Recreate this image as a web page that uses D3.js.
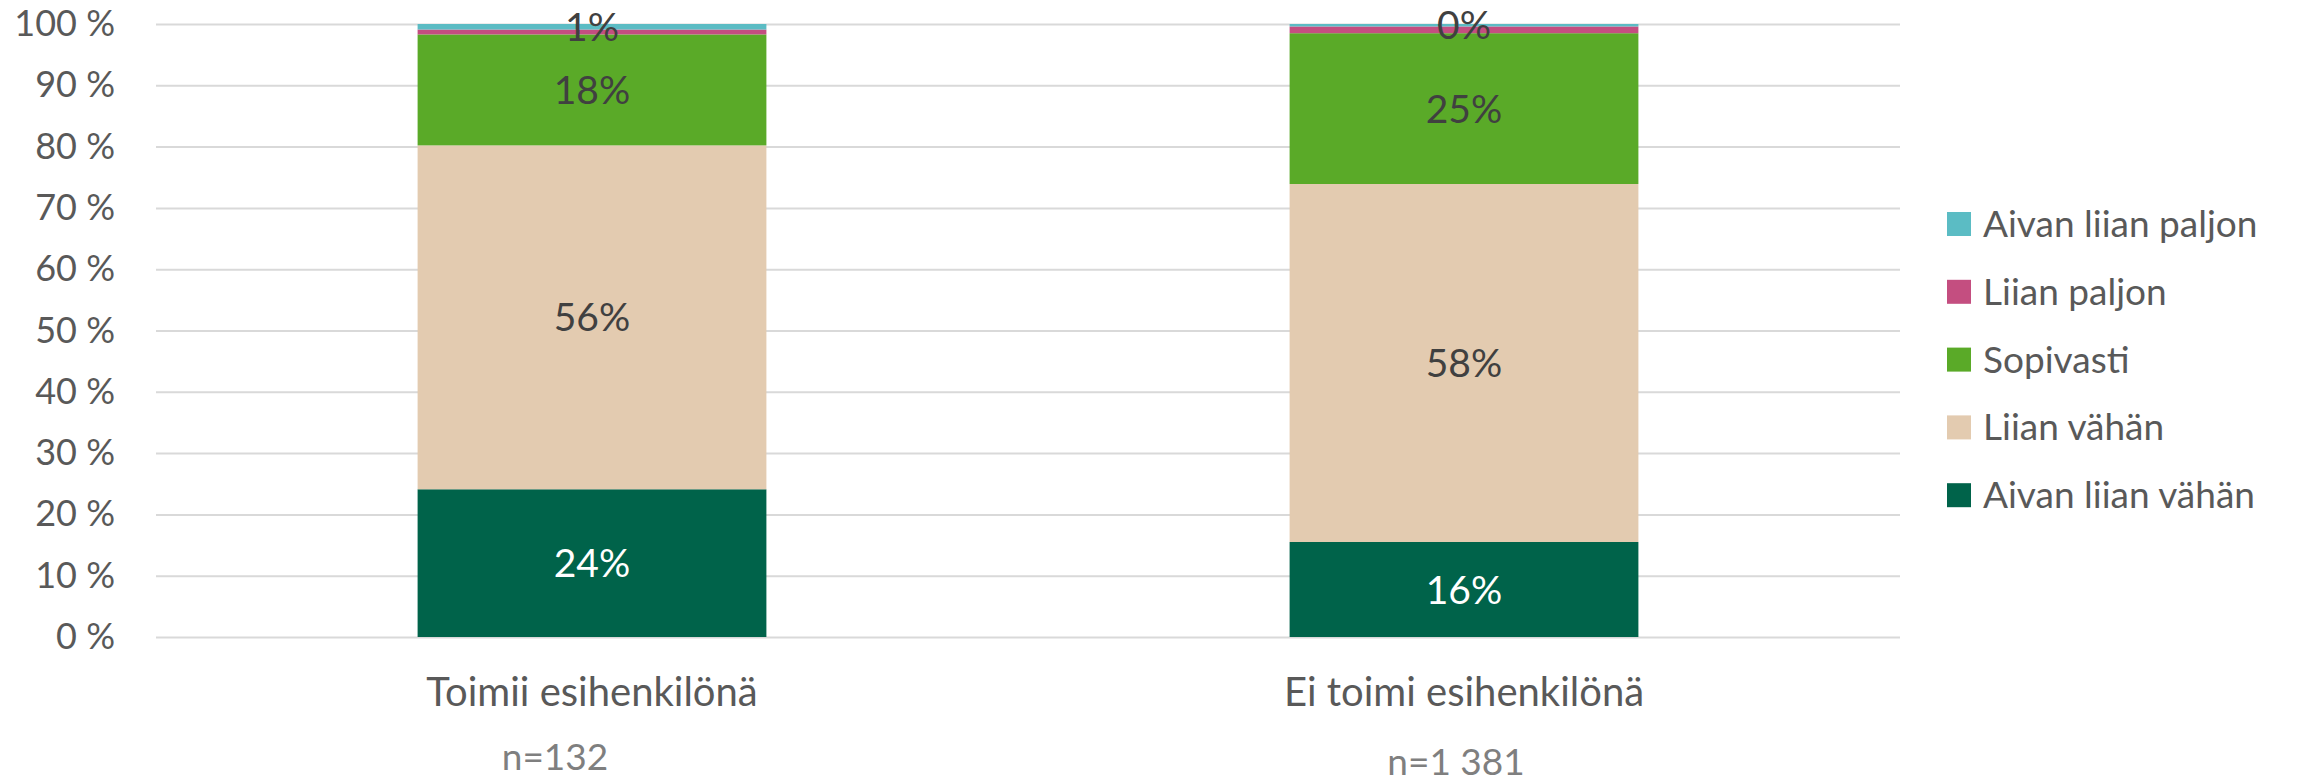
<!DOCTYPE html>
<html>
<head>
<meta charset="utf-8">
<script src="https://cdn.jsdelivr.net/npm/d3@7"></script>
<style>
  html, body { margin: 0; padding: 0; background: #fff; }
  svg text { font-family: Lato, "Open Sans", sans-serif; }
</style>
</head>
<body>
<div id="chart"></div>
<script>
// Categories and sample sizes
const categories = ["Toimii esihenkilönä", "Ei toimi esihenkilönä"];
const sampleSizes = ["n=132", "n=1 381"];

// Series, bottom to top of the stack
const seriesNames = ["Aivan liian vähän", "Liian vähän", "Sopivasti", "Liian paljon", "Aivan liian paljon"];
const aivanLiianVahan = [24.1, 15.5];
const liianVahan = [56.1, 58.4];
const sopivasti = [18.1, 24.6];
const liianPaljon = [0.8, 1.1];
const aivanLiianPaljon = [0.9, 0.4];

// Which series get a data label
const showLabel = [true, true, true, false, true];

const yTicks = [0, 10, 20, 30, 40, 50, 60, 70, 80, 90, 100];

const colors = ["#00634a", "#e3cbb0", "#5aaa28", "#c44e80", "#5bbcc4"];
const labelColors = ["#ffffff", "#404040", "#404040", "#404040", "#404040"];

// Build table for the stack layout
const seriesValues = [aivanLiianVahan, liianVahan, sopivasti, liianPaljon, aivanLiianPaljon];
const table = categories.map((c, i) => {
    const row = { category: c };
    seriesNames.forEach((s, j) => { row[s] = seriesValues[j][i]; });
    return row;
});

const width = 2305, height = 779;
const plot = { left: 156, right: 1900, top: 24, bottom: 637 };

const svg = d3.select("#chart")
    .append("svg")
    .attr("width", width)
    .attr("height", height);

const x = d3.scaleBand()
    .domain(categories)
    .range([plot.left, plot.right])
    .paddingInner(0.6)
    .paddingOuter(0.3);

const y = d3.scaleLinear()
    .domain([0, 100])
    .range([plot.bottom, plot.top]);

// Gridlines and y labels
const yAxis = svg.append("g")
    .attr("transform", `translate(${plot.left},0)`)
    .call(d3.axisLeft(y)
        .tickValues(yTicks)
        .tickSize(-(plot.right - plot.left))
        .tickPadding(41)
        .tickFormat(d => d + " %"));
yAxis.select(".domain").remove();
yAxis.selectAll(".tick line")
    .attr("stroke", "#d9d9d9")
    .attr("stroke-width", 2);
yAxis.selectAll(".tick text")
    .attr("fill", "#595959")
    .attr("font-size", "36px")
    .attr("font-family", "Lato, sans-serif");

// Stacked bars
const stack = d3.stack().keys(seriesNames);
const stacked = stack(table);

const layers = svg.selectAll(".layer")
    .data(stacked)
    .enter()
    .append("g")
    .attr("class", "layer")
    .attr("fill", (d, i) => colors[i]);

layers.selectAll("rect")
    .data(d => d)
    .enter()
    .append("rect")
    .attr("x", d => x(d.data.category))
    .attr("y", d => y(d[1]))
    .attr("width", x.bandwidth())
    .attr("height", d => y(d[0]) - y(d[1]));

// Data labels
stacked.forEach((layer, i) => {
    if (!showLabel[i]) return;
    svg.append("g")
        .selectAll("text")
        .data(layer)
        .enter()
        .append("text")
        .attr("x", d => x(d.data.category) + x.bandwidth() / 2)
        .attr("y", d => y((d[0] + d[1]) / 2))
        .attr("dy", "0.36em")
        .attr("text-anchor", "middle")
        .attr("font-size", "39px")
        .attr("fill", labelColors[i])
        .text(d => Math.round(d[1] - d[0]) + "%");
});

// Category axis
const xAxis = svg.append("g")
    .attr("transform", `translate(0,${plot.bottom})`)
    .call(d3.axisBottom(x).tickSize(0).tickPadding(41));
xAxis.select(".domain").remove();
xAxis.selectAll(".tick text")
    .attr("fill", "#595959")
    .attr("font-size", "40px")
    .attr("font-family", "Lato, sans-serif");

// Sample sizes under the categories
const nOffsets = [-37, -8];
const nBaselines = [770, 775];
svg.append("g")
    .selectAll("text")
    .data(sampleSizes)
    .enter()
    .append("text")
    .attr("x", (d, i) => x(categories[i]) + x.bandwidth() / 2 + nOffsets[i])
    .attr("y", (d, i) => nBaselines[i])
    .attr("text-anchor", "middle")
    .attr("font-size", "37px")
    .attr("fill", "#7f7f7f")
    .text(d => d);

// Legend, top series first
const legendOrder = seriesNames.map((s, i) => i).reverse();
const legend = svg.append("g")
    .attr("transform", "translate(1947,212)");

const items = legend.selectAll(".item")
    .data(legendOrder)
    .enter()
    .append("g")
    .attr("class", "item")
    .attr("transform", (d, k) => `translate(0,${k * 67.8})`);

items.append("rect")
    .attr("width", 24)
    .attr("height", 24)
    .attr("fill", d => colors[d]);

items.append("text")
    .attr("x", 36)
    .attr("y", 25)
    .attr("font-size", "37px")
    .attr("fill", "#595959")
    .text(d => seriesNames[d]);
</script>
</body>
</html>
